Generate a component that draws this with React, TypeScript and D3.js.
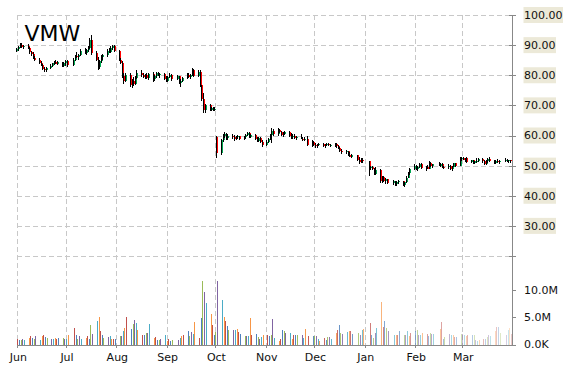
import React from 'react';
import * as d3 from 'd3';

const W = 570;
const H = 370;

// one row per trading day: [open, high, low, close, volume in millions]
const jun = [
  [88.0, 89.2, 87.6, 88.6, 1.0], [88.6, 89.8, 88.2, 89.5, 0.8], [89.5, 90.6, 89.0, 90.2, 0.9], [90.2, 90.7, 89.0, 89.3, 1.1], [89.3, 90.0, 88.6, 89.6, 0.9],
  [89.6, 90.5, 88.8, 89.0, 1.2], [89.0, 89.4, 87.2, 87.6, 1.6], [87.6, 88.2, 86.5, 87.0, 1.2], [87.0, 87.6, 85.4, 85.8, 1.0], [85.8, 86.4, 84.6, 85.2, 1.6],
  [85.2, 85.6, 83.8, 84.2, 0.9], [84.2, 84.8, 83.0, 83.4, 1.6], [83.4, 83.8, 81.6, 82.0, 1.8], [82.0, 82.8, 81.0, 81.6, 1.3], [81.6, 82.6, 81.2, 82.4, 1.2],
  [82.4, 83.6, 82.0, 83.2, 1.0], [83.2, 84.2, 82.8, 84.0, 1.0], [84.0, 84.8, 83.4, 84.4, 1.2], [84.4, 84.9, 83.6, 83.9, 1.1], [83.9, 84.6, 83.4, 84.3, 1.2],
  [84.3, 84.5, 82.8, 83.2, 1.2], [83.2, 84.4, 82.9, 84.1, 1.0],
];
const jul = [
  [84.0, 85.0, 83.0, 84.6, 1.0], [84.6, 85.2, 82.8, 83.4, 1.8],
  [83.4, 85.6, 83.0, 85.2, 3.0], [85.2, 86.6, 84.8, 86.4, 1.8], [86.4, 87.8, 85.6, 85.9, 1.0], [85.9, 87.2, 85.2, 86.8, 1.5], [86.8, 88.6, 86.4, 88.2, 1.0],
  [88.2, 89.2, 87.0, 87.4, 1.2], [87.4, 88.8, 86.6, 88.4, 1.5], [88.4, 89.6, 87.8, 89.0, 1.0], [89.0, 92.2, 88.6, 91.8, 3.6], [91.8, 93.5, 86.8, 87.4, 1.9],
  [87.4, 87.9, 84.6, 85.0, 4.3], [85.0, 86.0, 81.8, 82.6, 5.0], [82.6, 85.2, 82.2, 84.8, 2.4], [84.8, 86.6, 84.2, 86.0, 1.8], [86.0, 87.2, 85.2, 86.6, 1.2],
  [86.6, 88.6, 86.0, 88.2, 1.3], [88.2, 89.0, 87.4, 87.8, 1.5], [87.8, 89.6, 87.4, 89.2, 1.0], [89.2, 90.2, 88.4, 89.8, 1.0], [89.8, 90.0, 87.6, 88.0, 1.1],
];
const aug = [
  [88.0, 88.4, 84.6, 85.0, 1.6], [85.0, 85.6, 83.8, 84.2, 1.5], [84.2, 84.6, 79.0, 79.6, 2.4], [79.6, 80.6, 77.0, 78.0, 3.0], [78.0, 80.8, 77.6, 80.2, 5.0],
  [80.2, 80.6, 76.2, 76.8, 2.8], [76.8, 78.6, 75.8, 78.2, 3.7], [78.2, 79.4, 76.4, 77.0, 4.5], [77.0, 79.6, 76.6, 79.2, 4.0], [79.2, 81.8, 78.8, 80.6, 2.7],
  [80.6, 81.6, 79.4, 80.0, 1.7], [80.0, 80.8, 79.0, 79.4, 1.8], [79.4, 80.4, 78.8, 80.2, 2.1], [80.2, 80.6, 78.6, 79.0, 2.1], [79.0, 80.8, 78.4, 80.4, 3.8],
  [80.4, 81.0, 77.8, 78.6, 1.2], [78.6, 80.2, 78.0, 79.8, 1.4], [79.8, 81.0, 79.2, 80.6, 0.9], [80.6, 81.0, 79.6, 80.0, 0.9], [80.0, 80.8, 79.2, 80.4, 1.0],
  [80.4, 80.6, 78.4, 78.8, 1.7],
];
const sep = [
  [79.0, 79.8, 77.6, 78.2, 0.7], [78.2, 79.8, 77.8, 79.4, 1.1], [79.4, 80.6, 79.0, 80.2, 0.7], [80.2, 80.4, 78.2, 78.8, 0.9],
  [78.8, 80.0, 78.4, 79.6, 0.9], [79.6, 79.8, 77.0, 77.4, 1.2], [77.4, 78.6, 76.2, 78.2, 1.5], [78.2, 79.4, 77.8, 79.0, 1.7],
  [79.0, 80.6, 78.6, 80.2, 2.4], [80.2, 80.8, 79.0, 79.4, 1.6], [79.4, 80.4, 78.6, 80.0, 2.3], [80.0, 82.4, 79.6, 81.8, 1.9], [81.8, 82.2, 79.4, 79.8, 4.1],
  [79.8, 81.6, 79.4, 81.2, 1.2], [81.2, 81.6, 76.0, 76.6, 4.8], [76.6, 76.8, 71.4, 72.2, 11.8], [72.2, 74.0, 67.6, 68.6, 9.6], [68.6, 70.6, 67.4, 70.0, 7.6],
  [70.0, 70.4, 68.0, 68.6, 5.6], [68.6, 69.4, 68.0, 69.0, 3.6], [69.0, 69.6, 68.2, 68.6, 1.8],
];
const oct = [
  [68.6, 69.4, 68.2, 68.8, 2.3], [59.6, 60.0, 52.4, 54.2, 11.8],
  [54.2, 59.0, 53.4, 58.6, 8.3], [58.6, 60.4, 58.0, 59.8, 5.0], [59.8, 61.0, 59.2, 60.4, 4.4], [60.4, 60.8, 58.6, 59.2, 3.4], [59.2, 60.4, 58.4, 60.0, 2.7],
  [60.0, 60.6, 59.0, 59.4, 2.7], [59.4, 60.2, 58.2, 58.8, 2.6], [58.8, 59.8, 58.4, 59.6, 2.9], [59.6, 60.2, 59.0, 59.8, 2.3], [59.8, 60.0, 58.6, 59.0, 1.9],
  [59.0, 59.8, 58.6, 59.4, 1.6], [59.4, 60.4, 59.0, 60.2, 1.6], [60.2, 61.2, 59.8, 60.8, 1.6], [60.8, 61.0, 59.2, 59.6, 4.8], [59.6, 60.6, 59.2, 60.2, 1.7],
  [60.2, 60.4, 58.4, 58.8, 1.9], [58.8, 59.4, 57.8, 58.2, 1.4], [58.2, 59.6, 58.0, 59.2, 1.0], [59.2, 59.4, 57.4, 57.8, 1.4], [57.8, 58.4, 56.2, 56.8, 1.8],
];
const nov = [
  [56.8, 58.4, 56.4, 58.0, 1.7], [58.0, 59.2, 57.6, 58.8, 1.5], [58.8, 60.6, 58.4, 60.2, 1.8], [60.2, 62.6, 57.6, 61.4, 4.7], [61.4, 62.0, 60.0, 60.4, 1.2],
  [60.4, 62.4, 60.0, 61.8, 0.7], [61.8, 62.2, 60.8, 61.2, 1.0], [61.2, 61.6, 59.8, 60.2, 2.7], [60.2, 61.0, 59.4, 60.6, 2.5], [60.6, 61.6, 60.2, 61.2, 2.2],
  [61.2, 61.6, 59.6, 60.0, 2.2], [60.0, 60.8, 59.0, 59.4, 1.0], [59.4, 60.4, 59.0, 60.0, 1.8], [60.0, 60.6, 58.8, 59.2, 1.8], [59.2, 59.8, 58.4, 59.6, 1.8],
  [59.6, 60.4, 58.8, 59.0, 1.8], [59.0, 59.6, 58.2, 58.6, 1.2], [58.6, 59.4, 58.2, 59.0, 2.9], [59.0, 59.8, 56.4, 57.0, 1.5],
  [57.0, 58.4, 56.2, 57.8, 1.6],
];
const dec = [
  [57.8, 58.2, 56.6, 57.0, 1.6], [57.0, 57.4, 56.0, 56.4, 1.6], [56.4, 57.2, 55.8, 56.8, 1.0], [56.8, 57.6, 56.4, 57.2, 0.6],
  [57.2, 57.4, 56.2, 56.6, 1.2], [56.6, 57.2, 56.0, 56.9, 0.9], [56.9, 57.6, 56.4, 57.1, 1.4], [57.1, 57.4, 56.4, 56.7, 1.4], [56.7, 57.2, 56.2, 56.8, 1.0],
  [56.8, 57.6, 56.2, 57.2, 2.1], [57.2, 57.4, 56.0, 56.4, 2.7], [56.4, 57.0, 55.4, 55.8, 3.6], [55.8, 56.2, 54.6, 55.0, 2.2], [55.0, 55.6, 53.8, 54.4, 1.9],
  [54.4, 55.2, 54.0, 54.8, 2.3], [54.8, 55.0, 53.2, 53.6, 2.4], [53.6, 54.4, 52.8, 53.0, 2.5], [53.0, 53.8, 52.6, 53.4, 2.0],
  [53.4, 53.6, 51.6, 52.0, 2.1], [52.0, 52.8, 50.6, 51.2, 1.8], [51.2, 52.4, 50.8, 52.0, 2.6], [52.0, 52.6, 51.0, 51.4, 2.9],
];
const jan = [
  [51.4, 51.6, 46.4, 49.2, 4.0], [49.2, 50.0, 48.6, 49.6, 1.7], [49.6, 50.0, 48.6, 48.8, 1.2], [48.8, 49.2, 46.8, 47.2, 2.1], [47.2, 49.6, 46.8, 48.6, 3.0],
  [48.6, 48.8, 44.2, 44.8, 7.8], [44.8, 46.6, 44.2, 46.2, 3.2], [46.2, 46.4, 44.6, 45.0, 4.4], [45.0, 45.8, 44.0, 45.4, 3.0], [45.4, 45.6, 43.8, 44.2, 2.4],
  [44.2, 45.2, 43.6, 44.8, 1.7], [44.8, 45.0, 43.4, 44.0, 1.8], [44.0, 44.8, 43.2, 44.4, 1.8], [44.4, 45.2, 44.0, 44.8, 2.5],
  [44.8, 45.0, 43.2, 43.6, 1.7], [43.6, 44.6, 43.0, 44.4, 1.7], [44.4, 46.4, 44.2, 46.0, 2.5], [46.0, 47.8, 45.8, 47.4, 1.6], [47.4, 49.2, 47.0, 48.8, 2.1],
];
const feb = [
  [48.8, 50.4, 48.4, 50.0, 2.4], [50.0, 50.2, 48.6, 49.0, 2.7], [49.0, 50.0, 48.2, 49.6, 1.7], [49.6, 51.0, 49.2, 50.6, 1.7], [50.6, 50.8, 48.8, 49.2, 2.2],
  [49.2, 49.8, 48.2, 49.4, 1.9], [49.4, 50.2, 48.8, 49.0, 1.5], [49.0, 51.4, 48.8, 51.0, 2.2], [51.0, 51.2, 49.4, 49.8, 1.9], [49.8, 50.6, 49.2, 50.4, 2.0],
  [50.4, 51.2, 49.8, 50.0, 2.8], [50.0, 50.8, 49.4, 50.6, 4.1], [50.6, 50.8, 49.2, 49.6, 1.0], [49.6, 50.0, 48.8, 49.4, 1.4],
  [49.4, 50.4, 49.0, 50.0, 1.9], [50.0, 50.2, 48.6, 49.0, 1.8], [49.0, 49.8, 48.2, 49.6, 1.7], [49.6, 51.0, 49.4, 50.8, 1.4], [50.8, 51.0, 49.6, 50.0, 1.3],
  [50.0, 52.8, 49.8, 52.2, 1.9],
];
const mar = [
  [52.2, 53.0, 51.6, 52.6, 1.9], [52.6, 53.0, 51.8, 52.0, 1.8], [52.0, 52.6, 51.2, 52.4, 1.6], [52.4, 52.8, 50.8, 51.2, 1.7],
  [51.2, 52.0, 50.8, 51.8, 1.8], [51.8, 52.0, 50.6, 50.9, 1.7], [50.9, 51.6, 50.4, 51.4, 0.9], [51.4, 52.4, 51.0, 51.6, 0.6], [51.6, 52.6, 51.2, 52.2, 0.9],
  [52.2, 52.4, 51.0, 51.4, 1.0], [51.4, 51.8, 50.2, 50.6, 1.0], [50.6, 51.8, 50.2, 51.4, 1.4], [51.4, 52.6, 51.0, 52.2, 1.7], [52.2, 52.8, 51.2, 51.6, 1.6],
  [51.6, 52.0, 50.4, 50.8, 2.5], [50.8, 51.8, 50.4, 51.6, 3.2], [51.6, 52.2, 51.0, 51.2, 3.2], [51.2, 51.8, 50.6, 51.6, 2.1],
  [51.6, 52.4, 51.2, 52.0, 1.8], [52.0, 52.2, 51.2, 51.4, 2.6], [51.4, 52.0, 51.0, 51.8, 3.0], [51.8, 52.0, 51.0, 51.4, 2.0],
];

const months = [
  { start: '2015-06', rows: jun }, { start: '2015-07', rows: jul }, { start: '2015-08', rows: aug },
  { start: '2015-09', rows: sep }, { start: '2015-10', rows: oct }, { start: '2015-11', rows: nov },
  { start: '2015-12', rows: dec }, { start: '2016-01', rows: jan }, { start: '2016-02', rows: feb },
  { start: '2016-03', rows: mar },
];
const holidays = ['2015-07-03', '2015-09-07', '2015-11-26', '2015-12-25', '2016-01-01', '2016-01-18', '2016-02-15', '2016-03-25'];

const priceTicks = [100, 90, 80, 70, 60, 50, 40, 30];
const priceGrid = [100, 90, 80, 70, 60, 50, 40, 30, 20];
const volTicks = [10, 5, 0];
const volLabels = ['10.0M', '5.0M', '0.0K'];
const barColors = ['#C0504D', '#4F81BD', '#9BBB59', '#8064A2', '#4BACC6', '#F79646'];

const FONT = 'DejaVu Sans, Verdana, sans-serif';
const fmtKey = d3.timeFormat('%Y-%m-%d');

type Day = { date: Date; o: number; h: number; l: number; c: number; v: number };

function buildDays(): Day[] {
  const out: Day[] = [];
  months.forEach(m => {
    const [y, mo] = m.start.split('-').map(Number);
    let i = 0;
    for (let d = 1; d <= 31 && i < m.rows.length; d++) {
      const dt = new Date(y, mo - 1, d);
      if (dt.getMonth() !== mo - 1) break;
      const dow = dt.getDay();
      if (dow === 0 || dow === 6 || holidays.includes(fmtKey(dt))) continue;
      const [o, h, l, c, v] = m.rows[i++];
      out.push({ date: dt, o, h, l, c, v });
    }
  });
  return out;
}

export default function App() {
  const days = buildDays();

  const left = 17.3;
  const right = 512;
  const top = 15;
  const bottom = 344.5;

  const x = d3.scaleTime()
    .domain([new Date(2015, 5, 1), new Date(2016, 2, 31)])
    .range([left, 511]);
  const y = d3.scaleLinear().domain([20, 100]).range([256, top]);
  const yv = d3.scaleLinear().domain([0, 10]).range([bottom, 290.3]);
  // later volume bars are drawn paler
  const fade = d3.scaleLinear()
    .domain([new Date(2015, 10, 15), new Date(2016, 2, 31)])
    .range([1, 0.3])
    .clamp(true);

  const monthTicks = d3.timeMonth.range(new Date(2015, 5, 1), new Date(2016, 3, 1));
  const fmtMonth = d3.timeFormat('%b');

  const labelW = (s: string) => s.replace('.', '').length * 7 + 3.5;

  return (
    <svg width={W} height={H} style={{ position: 'absolute', left: 0, top: 0, background: '#fff' }}>
      {/* grid */}
      <g stroke="#c8c8c8" strokeWidth={1} strokeDasharray="5,3" shapeRendering="crispEdges">
        {priceGrid.map(p => (
          <line key={'h' + p} x1={left} x2={right} y1={Math.round(y(p)) + 0.5} y2={Math.round(y(p)) + 0.5} />
        ))}
        {monthTicks.map(m => (
          <line key={'v' + m.getTime()} x1={Math.round(x(m)) + 0.5} x2={Math.round(x(m)) + 0.5} y1={top} y2={bottom} />
        ))}
      </g>

      {/* volume */}
      <g shapeRendering="crispEdges">
        {days.map((d, i) => (
          <rect key={'v' + i} x={Math.round(x(d.date))} width={1}
            y={yv(d.v)} height={bottom - yv(d.v)}
            fill={barColors[i % barColors.length]} fillOpacity={fade(d.date)} />
        ))}
      </g>

      {/* candles */}
      <g shapeRendering="crispEdges">
        {days.map((d, i) => {
          const cx = Math.round(x(d.date));
          const bt = y(Math.max(d.o, d.c));
          const bb = y(Math.min(d.o, d.c));
          return (
            <g key={'c' + i}>
              <rect x={cx - 1} width={1} y={y(d.h)} height={Math.max(1, y(d.l) - y(d.h))} fill="#000" />
              <rect x={cx} width={1} y={bt} height={Math.max(1, bb - bt)} fill={d.c >= d.o ? '#00A651' : '#FF0000'} />
            </g>
          );
        })}
      </g>

      {/* axes */}
      <g stroke="#888" strokeWidth={1} shapeRendering="crispEdges">
        <line x1={right + 0.5} x2={right + 0.5} y1={top} y2={bottom} />
        <line x1={left} x2={right} y1={bottom + 0.5} y2={bottom + 0.5} />
        {priceGrid.map(p => (
          <line key={'pt' + p} x1={right - 3} x2={right + 4} y1={Math.round(y(p)) + 0.5} y2={Math.round(y(p)) + 0.5} />
        ))}
        {volTicks.map(v => (
          <line key={'vt' + v} x1={right} x2={right + 4} y1={Math.round(yv(v)) + 0.5} y2={Math.round(yv(v)) + 0.5} />
        ))}
        {monthTicks.map(m => (
          <line key={'mt' + m.getTime()} x1={Math.round(x(m)) + 0.5} x2={Math.round(x(m)) + 0.5} y1={bottom} y2={bottom + 3} />
        ))}
      </g>

      {/* price and volume labels */}
      <g fontFamily={FONT} fontSize={11} fill="#111">
        {priceTicks.map(p => (
          <g key={'pl' + p}>
            <rect x={523.5} y={y(p) - 8} width={labelW(p.toFixed(2)) + 1} height={16} fill="#ece9d8" />
            <text x={524} y={y(p)} dy="0.36em">{p.toFixed(2)}</text>
          </g>
        ))}
        {volTicks.map((v, i) => (
          <text key={'vl' + v} x={524} y={yv(v)} dy="0.36em">{volLabels[i]}</text>
        ))}
      </g>

      {/* month labels */}
      <g fontFamily={FONT} fontSize={11} fill="#111" textAnchor="middle">
        {monthTicks.map(m => (
          <text key={'ml' + m.getTime()} x={x(m) + 1} y={361}>{fmtMonth(m)}</text>
        ))}
      </g>

      <text x={24.5} y={40.5} fontFamily={FONT} fontSize={22} fill="#000">VMW</text>
    </svg>
  );
}
